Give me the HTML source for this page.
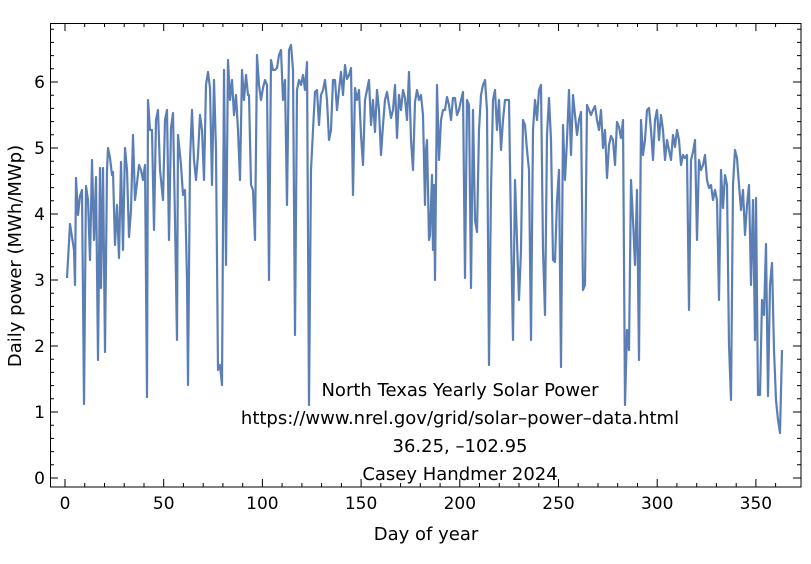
<!DOCTYPE html>
<html><head><meta charset="utf-8"><style>
html,body{margin:0;padding:0;background:#fff;}
svg{display:block;font-family:"DejaVu Sans","Liberation Sans",sans-serif;}
</style></head><body>
<svg width="811" height="564" viewBox="0 0 811 564" xmlns="http://www.w3.org/2000/svg">
<rect width="811" height="564" fill="#fff"/>
<polyline fill="none" stroke="#5b7fb5" stroke-width="2.2" stroke-linejoin="round" points="67,278 70,224 74,250 75,285 76,178 78,215 80,196 82,190 84,404 86,186 88,200 90,260 92,160 94,240 96,177 98,360 100,168 101,288 103,168 105,352 107,170 108,148 110,158 112,175 113,172 115,245 117,205 119,258 121,162 123,250 125,148 127,170 129,237 131,210 133,135 135,200 137,183 139,165 141,170 143,180 145,165 147,397 148,100 150,130 152,130 154,230 156,120 158,110 160,170 163,200 165,120 167,110 169,240 171,128 173,113 175,220 177,340 178,135 181,165 183,195 185,190 187,280 188,385 190,160 192,110 194,160 196,180 198,155 200,115 202,130 204,180 206,85 208,72 210,88 212,185 214,80 216,150 218,370 220,365 222,385 224,70 226,265 228,60 230,100 232,80 234,115 236,95 238,130 240,180 242,70 244,100 246,75 248,95 249,95 251,185 253,190 255,240 257,55 259,85 261,100 263,88 265,80 267,85 269,280 271,60 273,70 275,70 277,68 279,55 281,50 283,100 285,80 287,205 289,50 291,45 293,70 295,335 297,90 299,80 301,85 303,75 305,90 307,62 309,405 311,170 313,130 315,92 317,90 319,125 321,95 323,90 325,80 327,100 329,140 331,130 333,80 335,80 337,110 339,90 341,72 343,95 345,65 347,79 349,75 351,68 353,195 355,88 357,100 359,90 361,135 363,165 365,100 367,90 369,80 371,125 373,100 375,132 377,90 379,110 381,155 383,125 385,100 387,92 389,105 391,118 393,110 395,85 397,138 399,95 401,110 403,90 405,98 407,120 409,72 411,140 413,170 415,102 417,90 419,100 421,95 423,115 425,205 426,150 427,140 429,240 430,235 432,175 433,250 434,185 435,280 437,85 439,160 441,120 443,110 445,110 447,97 449,105 451,120 453,98 455,98 457,115 459,110 461,100 463,92 465,278 467,100 469,105 471,288 473,110 475,220 477,232 479,130 481,95 483,85 485,80 487,110 489,365 491,190 493,100 495,90 497,130 499,100 501,150 503,120 505,100 507,100 509,100 511,230 513,340 515,180 517,240 519,300 521,250 523,120 525,125 527,150 529,170 531,340 533,130 535,100 537,120 539,90 541,85 543,250 545,315 547,135 549,98 551,140 553,260 555,262 557,200 559,170 561,367 563,125 565,180 567,140 569,90 571,155 573,95 575,115 577,135 579,120 581,112 583,290 585,285 587,105 589,110 591,115 593,110 595,106 597,120 599,130 601,110 603,148 605,130 607,178 609,145 611,136 613,140 615,165 617,122 619,127 621,138 623,120 625,405 627,330 629,350 631,180 633,220 635,265 637,190 639,360 641,120 643,155 645,140 647,110 649,108 651,130 653,160 655,120 657,110 659,140 661,115 663,130 665,160 667,140 669,150 671,160 673,135 675,147 677,130 679,140 681,165 683,155 685,158 687,155 689,310 691,160 693,152 695,140 697,240 699,160 701,170 703,165 705,155 707,180 709,188 711,185 713,200 715,190 717,200 719,300 721,170 723,208 725,175 727,185 729,345 731,400 733,185 735,150 737,158 739,185 741,210 743,190 745,235 747,205 749,185 751,285 753,200 755,340 756,198 758,395 760,395 762,300 764,315 766,244 768,396 770,285 772,263 774,350 776,400 778,420 780,433 782,350"/>
<rect x="50.5" y="23.5" width="750.5" height="463.5" fill="none" stroke="#000" stroke-width="1"/>
<path stroke="#000" stroke-width="1" fill="none" d="
M65,487v-8M65,23v8 M84.7,487v-4M84.7,23v4 M104.5,487v-4M104.5,23v4 M124.2,487v-4M124.2,23v4 M144,487v-4M144,23v4
M163.7,487v-8M163.7,23v8 M183.4,487v-4M183.4,23v4 M203.2,487v-4M203.2,23v4 M222.9,487v-4M222.9,23v4 M242.7,487v-4M242.7,23v4
M262.4,487v-8M262.4,23v8 M282.1,487v-4M282.1,23v4 M301.9,487v-4M301.9,23v4 M321.6,487v-4M321.6,23v4 M341.4,487v-4M341.4,23v4
M361.1,487v-8M361.1,23v8 M380.8,487v-4M380.8,23v4 M400.6,487v-4M400.6,23v4 M420.3,487v-4M420.3,23v4 M440.1,487v-4M440.1,23v4
M459.8,487v-8M459.8,23v8 M479.5,487v-4M479.5,23v4 M499.3,487v-4M499.3,23v4 M519,487v-4M519,23v4 M538.8,487v-4M538.8,23v4
M558.5,487v-8M558.5,23v8 M578.2,487v-4M578.2,23v4 M598,487v-4M598,23v4 M617.7,487v-4M617.7,23v4 M637.5,487v-4M637.5,23v4
M657.2,487v-8M657.2,23v8 M676.9,487v-4M676.9,23v4 M696.7,487v-4M696.7,23v4 M716.4,487v-4M716.4,23v4 M736.2,487v-4M736.2,23v4
M755.9,487v-8M755.9,23v8 M775.6,487v-4M775.6,23v4
M50,478h8M801,478h-8 M50,464.8h4M801,464.8h-4 M50,451.6h4M801,451.6h-4 M50,438.4h4M801,438.4h-4 M50,425.2h4M801,425.2h-4
M50,412h8M801,412h-8 M50,398.8h4M801,398.8h-4 M50,385.6h4M801,385.6h-4 M50,372.4h4M801,372.4h-4 M50,359.2h4M801,359.2h-4
M50,346h8M801,346h-8 M50,332.8h4M801,332.8h-4 M50,319.6h4M801,319.6h-4 M50,306.4h4M801,306.4h-4 M50,293.2h4M801,293.2h-4
M50,280h8M801,280h-8 M50,266.8h4M801,266.8h-4 M50,253.6h4M801,253.6h-4 M50,240.4h4M801,240.4h-4 M50,227.2h4M801,227.2h-4
M50,214h8M801,214h-8 M50,200.8h4M801,200.8h-4 M50,187.6h4M801,187.6h-4 M50,174.4h4M801,174.4h-4 M50,161.2h4M801,161.2h-4
M50,148h8M801,148h-8 M50,134.8h4M801,134.8h-4 M50,121.6h4M801,121.6h-4 M50,108.4h4M801,108.4h-4 M50,95.2h4M801,95.2h-4
M50,82h8M801,82h-8 M50,68.8h4M801,68.8h-4 M50,55.6h4M801,55.6h-4 M50,42.4h4M801,42.4h-4 M50,29.2h4M801,29.2h-4"/>
<g font-size="17" fill="#000" text-anchor="end">
<text x="45" y="484">0</text><text x="45" y="418">1</text><text x="45" y="352">2</text><text x="45" y="286">3</text><text x="45" y="220">4</text><text x="45" y="154">5</text><text x="45" y="88">6</text>
</g>
<g font-size="17" fill="#000" text-anchor="middle">
<text x="65" y="509">0</text><text x="163.7" y="509">50</text><text x="262.4" y="509">100</text><text x="361.1" y="509">150</text><text x="459.8" y="509">200</text><text x="558.5" y="509">250</text><text x="657.2" y="509">300</text><text x="755.9" y="509">350</text>
</g>
<g font-size="18" fill="#000" text-anchor="middle">
<text x="460" y="396">North Texas Yearly Solar Power</text>
<text x="460" y="424">https://www.nrel.gov/grid/solar–power–data.html</text>
<text x="460" y="452">36.25, –102.95</text>
<text x="460" y="480">Casey Handmer 2024</text>
<text x="426" y="540">Day of year</text>
<text transform="translate(21,256) rotate(-90)">Daily power (MWh/MWp)</text>
</g>
</svg>
</body></html>
